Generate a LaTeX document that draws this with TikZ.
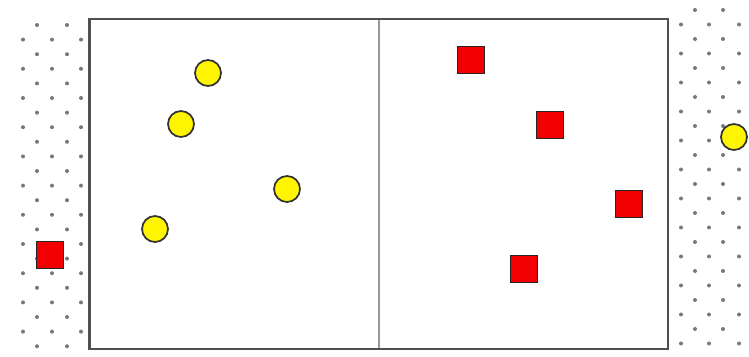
\documentclass[tikz,border=0pt]{standalone}
\usepackage{xcolor}
\usetikzlibrary{positioning}
\definecolor{framegray}{RGB}{80,80,80}
\definecolor{dotgray}{RGB}{120,120,120}
\definecolor{ballyellow}{RGB}{255,245,0}
\definecolor{cubered}{RGB}{240,0,0}
\tikzset{
  ball/.style={circle,draw=black!80,fill=ballyellow,line width=1pt,
    minimum size=0.52cm,inner sep=0pt},
  cube/.style={rectangle,draw=black!85,fill=cubered,line width=1pt,
    minimum size=0.54cm,inner sep=0pt},
  court/.style={draw=framegray,line width=1.6pt},
  midline/.style={draw=gray!80,line width=0.8pt}
}

\begin{document}
\begin{tikzpicture}
  \useasboundingbox (0,0) rectangle (14.98,7.12);

  % dotted margins
  \foreach \k in {0,2,...,22}
    \foreach \x in {0.74,1.34}
      \fill[dotgray] (\x,{6.62-0.292*\k}) circle (0.04);
  \foreach \k in {1,3,...,21}
    \foreach \x in {0.46,1.04,1.62}
      \fill[dotgray] (\x,{6.62-0.292*\k}) circle (0.04);
  \foreach \k in {0,2,...,22}
    \foreach \x in {13.90,14.46}
      \fill[dotgray] (\x,{6.92-0.29*\k}) circle (0.04);
  \foreach \k in {1,3,...,23}
    \foreach \x in {13.62,14.18,14.78}
      \fill[dotgray] (\x,{6.92-0.29*\k}) circle (0.04);

  % court
  \coordinate (nw) at (1.79,6.74);
  \coordinate (se) at (13.36,0.14);
  \coordinate (mtop) at (7.58,6.74);
  \coordinate (mbot) at (7.58,0.14);
  \draw[midline] (mtop) -- (mbot);
  \draw[court] (nw) rectangle (se);

  % yellow balls
  \node[ball] (y1) at (4.16,5.66) {};
  \node[ball] (y2) at (3.62,4.64) {};
  \node[ball] (y3) at (5.74,3.34) {};
  \node[ball] (y4) at (3.10,2.54) {};
  \node[ball] (yout) at (14.68,4.38) {};

  % red cubes
  \node[cube] (r1) at (9.42,5.92) {};
  \node[cube] (r2) at (11.00,4.62) {};
  \node[cube] (r3) at (12.58,3.04) {};
  \node[cube] (r4) at (10.48,1.74) {};
  \node[cube] (rout) at (1.00,2.02) {};
\end{tikzpicture}
\end{document}
